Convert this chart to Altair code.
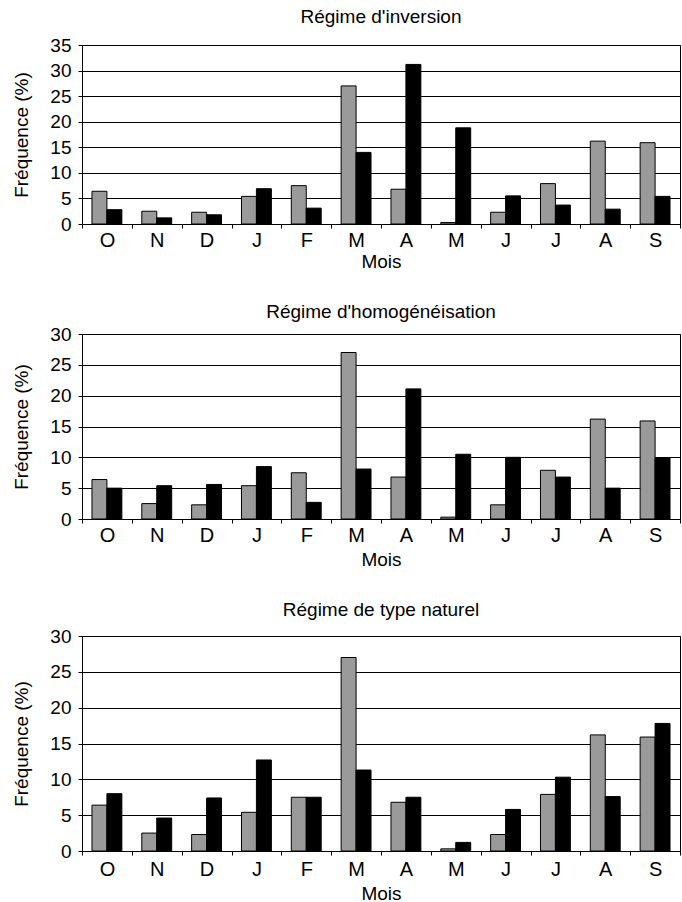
import altair as alt
import pandas as pd

# ---- data ----
mois = ["O", "N", "D", "J", "F", "M", "A", "M", "J", "J", "A", "S"]
ensemble = [6.4, 2.5, 2.3, 5.4, 7.5, 27.0, 6.8, 0.3, 2.3, 7.9, 16.2, 15.9]
inversion = [2.8, 1.2, 1.8, 6.9, 3.1, 14.0, 31.2, 18.8, 5.5, 3.7, 2.9, 5.4]
homogeneisation = [5.0, 5.4, 5.6, 8.5, 2.7, 8.1, 21.1, 10.5, 10.0, 6.8, 5.0, 9.9]
naturel = [8.0, 4.6, 7.4, 12.7, 7.5, 11.3, 7.5, 1.2, 5.8, 10.3, 7.6, 17.8]
titres = ["Régime d'inversion", "Régime d'homogénéisation", "Régime de type naturel"]
ymax = [35, 30, 30]

FONT = "Liberation Sans, Arial, sans-serif"
label_expr = "[" + ",".join(f"'{m}'" for m in mois) + "][datum.value]"


def panel(titre, valeurs, top, height, title_offset, xlab_pad, xtitle_pad):
    df = pd.DataFrame({
        "idx": list(range(len(mois))) * 2,
        "serie": ["Ensemble"] * len(mois) + ["Régime"] * len(mois),
        "freq": ensemble + valeurs,
    })
    return alt.Chart(df).mark_bar(stroke="black", strokeWidth=1).encode(
        x=alt.X("idx:O", title="Mois",
                scale=alt.Scale(paddingInner=0, paddingOuter=0),
                axis=alt.Axis(labelExpr=label_expr, labelAngle=0, tickBand="extent",
                              tickSize=4, labelFontSize=20, labelPadding=xlab_pad,
                              titleFontSize=19, titlePadding=xtitle_pad)),
        xOffset=alt.XOffset("serie:N", sort=["Ensemble", "Régime"],
                            scale=alt.Scale(paddingOuter=0.667, paddingInner=0)),
        y=alt.Y("freq:Q", title="Fréquence (%)",
                scale=alt.Scale(domain=[0, top], nice=False),
                axis=alt.Axis(values=list(range(0, top + 1, 5)), grid=True,
                              tickSize=4, labelFontSize=19, labelPadding=7,
                              titleFontSize=19, titlePadding=18)),
        color=alt.Color("serie:N",
                        scale=alt.Scale(domain=["Ensemble", "Régime"],
                                        range=["#9a9a9a", "#000000"]),
                        legend=None),
    ).properties(
        width=598, height=height,
        title=alt.TitleParams(titre, offset=title_offset, fontSize=19,
                              font=FONT, fontWeight="normal", color="black"),
    )


chart = alt.vconcat(
    panel(titres[0], inversion, ymax[0], 179, 9, 2, 2),
    panel(titres[1], homogeneisation, ymax[1], 185, 3, 2, 5),
    panel(titres[2], naturel, ymax[2], 215, 7, 4, 5),
    spacing=30,
).properties(
    padding={"left": 12, "top": 7, "right": 0, "bottom": 0}
).configure_view(
    stroke="black", strokeWidth=1
).configure_axis(
    domainColor="black", tickColor="black", gridColor="black", gridWidth=1,
    labelColor="black", titleColor="black", labelFont=FONT, titleFont=FONT,
    titleFontWeight="normal"
)

chart.save("out.html", embed_options={"renderer": "svg", "actions": False})
